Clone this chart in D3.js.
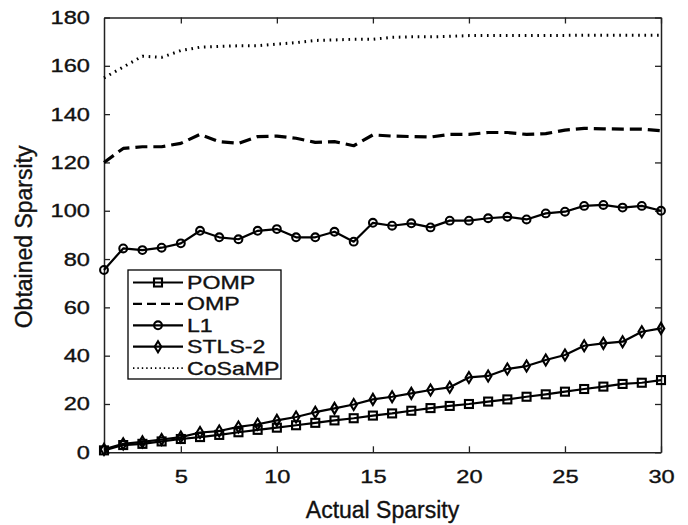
<!DOCTYPE html>
<html>
<head>
<meta charset="utf-8">
<script src="https://cdn.jsdelivr.net/npm/d3@7"></script>
<style>
  html, body { margin: 0; padding: 0; background: #fff; }
  svg { display: block; }
  text { font-family: "Liberation Sans", Arial, Helvetica, sans-serif; fill: #111; stroke: #111; stroke-width: 0.35; }
</style>
</head>
<body>
<svg id="chart" width="688" height="525"></svg>
<script>
const sparsity = d3.range(1, 31);
const xTicks = [5, 10, 15, 20, 25, 30];
const yTicks = [0, 20, 40, 60, 80, 100, 120, 140, 160, 180];

const pomp = [0.8, 3, 3.5, 4.5, 5.5, 6.3, 7.2, 8.3, 9.3, 10.2, 11.2, 12.2, 13.2, 14.1, 15.2, 16.1, 17.2, 18.3, 19.2, 20, 21, 21.9, 23, 24, 25.1, 26.2, 27.2, 28.3, 28.8, 29.9];
const omp = [120, 125.8, 126.5, 126.5, 127.9, 131.6, 128.6, 127.9, 130.7, 130.9, 130, 128.3, 128.6, 126.9, 131.4, 130.9, 130.7, 130.5, 131.6, 131.6, 132.4, 132.4, 131.6, 131.9, 133.4, 134.1, 133.9, 133.8, 133.8, 133.1];
const l1 = [75.5, 84.4, 83.7, 84.7, 86.5, 91.7, 89, 88.2, 91.7, 92.4, 89, 89, 91.3, 87.2, 95, 93.8, 94.8, 93.1, 95.9, 95.9, 96.9, 97.5, 96.4, 98.9, 99.6, 102, 102.4, 101.3, 102, 100];
const stls2 = [1.2, 3.5, 4.3, 5.3, 6.3, 8.2, 8.8, 10.5, 11.6, 13.2, 14.6, 16.6, 18.2, 19.8, 21.9, 23, 24.4, 25.8, 26.9, 31, 31.6, 34.5, 35.7, 38.2, 40.3, 44.1, 45.1, 45.8, 49.9, 51.3];
const cosamp = [155, 159.5, 164, 163.5, 166.3, 167.7, 168, 168.3, 168.3, 169, 169.6, 170.5, 170.7, 171, 171, 171.8, 172, 172, 172.2, 172.5, 172.5, 172.5, 172.5, 172.6, 172.6, 172.7, 172.7, 172.7, 172.7, 172.7];

const seriesNames = ["POMP", "OMP", "L1", "STLS-2", "CoSaMP"];

const series = [
  { name: seriesNames[0], values: pomp, dash: null, width: 2.2, marker: "square" },
  { name: seriesNames[1], values: omp, dash: "12,6", width: 3.2, marker: null },
  { name: seriesNames[2], values: l1, dash: null, width: 2.2, marker: "circle" },
  { name: seriesNames[3], values: stls2, dash: null, width: 2.2, marker: "diamond" },
  { name: seriesNames[4], values: cosamp, dash: "1.6,4.7", width: 3, marker: null }
];

const svg = d3.select("#chart");
const L = 104, R = 661, T = 17.5, B = 452.3;
const x = d3.scaleLinear().domain([1, 30]).range([L, R]);
const y = d3.scaleLinear().domain([0, 180]).range([B, T]);
const SX = 1.27;

function drawMarker(g, type, cx, cy) {
  if (type === "square") {
    g.append("rect").attr("x", cx - 4).attr("y", cy - 4).attr("width", 8).attr("height", 8)
      .attr("fill", "none").attr("stroke", "#000").attr("stroke-width", 2.1);
  } else if (type === "circle") {
    g.append("circle").attr("cx", cx).attr("cy", cy).attr("r", 3.9)
      .attr("fill", "none").attr("stroke", "#000").attr("stroke-width", 2.1);
  } else if (type === "diamond") {
    g.append("path").attr("d", `M${cx},${cy - 5.5}L${cx + 3.3},${cy}L${cx},${cy + 5.5}L${cx - 3.3},${cy}Z`)
      .attr("fill", "none").attr("stroke", "#000").attr("stroke-width", 2.1);
  }
}

// axes
const axL = svg.append("g").attr("transform", `translate(${L},0)`)
  .call(d3.axisLeft(y).tickValues(yTicks).tickSize(-6).tickSizeOuter(0).tickPadding(14));
axL.selectAll("text").attr("x", -14 / SX).attr("transform", `scale(${SX},1)`);
const axB = svg.append("g").attr("transform", `translate(0,${B})`)
  .call(d3.axisBottom(x).tickValues(xTicks).tickSize(-6).tickSizeOuter(0).tickPadding(18));
axB.selectAll("text").attr("transform", `scale(${SX},1)`);
svg.append("g").attr("transform", `translate(0,${T})`)
  .call(d3.axisTop(x).tickValues(xTicks).tickSize(-6).tickSizeOuter(0).tickFormat(""));
svg.append("g").attr("transform", `translate(${R},0)`)
  .call(d3.axisRight(y).tickValues(yTicks).tickSize(-6).tickSizeOuter(0).tickFormat(""));
svg.selectAll(".domain").attr("stroke", "#222").attr("stroke-width", 1.5);
svg.selectAll(".tick line").attr("stroke", "#222").attr("stroke-width", 1.3);
svg.selectAll(".tick text").attr("font-size", 18.6).attr("fill", "#111")
  .style("font-family", "'Liberation Sans', Arial, sans-serif");

// lines
const line = d3.line().x((d, i) => x(sparsity[i])).y(d => y(d));
const plot = svg.append("g");
series.forEach(s => {
  plot.append("path").datum(s.values).attr("d", line)
    .attr("fill", "none").attr("stroke", "#000").attr("stroke-width", s.width)
    .attr("stroke-dasharray", s.dash).attr("stroke-linejoin", "round");
  if (s.marker) {
    const mg = plot.append("g");
    s.values.forEach((v, i) => drawMarker(mg, s.marker, x(sparsity[i]), y(v)));
  }
});

// labels
svg.append("text").attr("x", (L + R) / 2).attr("y", 518).attr("text-anchor", "middle")
  .attr("font-size", 23).text("Actual Sparsity");
svg.append("text").attr("transform", `translate(32,${(T + B) / 2 + 2}) rotate(-90)`)
  .attr("text-anchor", "middle").attr("font-size", 23).text("Obtained Sparsity");

// legend
const lg = svg.append("g");
lg.append("rect").attr("x", 128).attr("y", 270).attr("width", 153).attr("height", 109)
  .attr("fill", "#fff").attr("stroke", "#000").attr("stroke-width", 1.3);
series.forEach((s, i) => {
  const cy = 282.5 + i * 21.4;
  lg.append("line").attr("x1", 133).attr("x2", 183).attr("y1", cy).attr("y2", cy)
    .attr("stroke", "#000").attr("stroke-width", s.dash ? (i === 1 ? 2.2 : 1.6) : 2.2)
    .attr("stroke-dasharray", s.dash ? (i === 1 ? "9,5" : "1.4,3") : null);
  if (s.marker) drawMarker(lg, s.marker, 158, cy);
  lg.append("text").attr("transform", `translate(187,${cy + 6.5}) scale(1.25,1)`)
    .attr("font-size", 18.5).text(s.name);
});
</script>
</body>
</html>
